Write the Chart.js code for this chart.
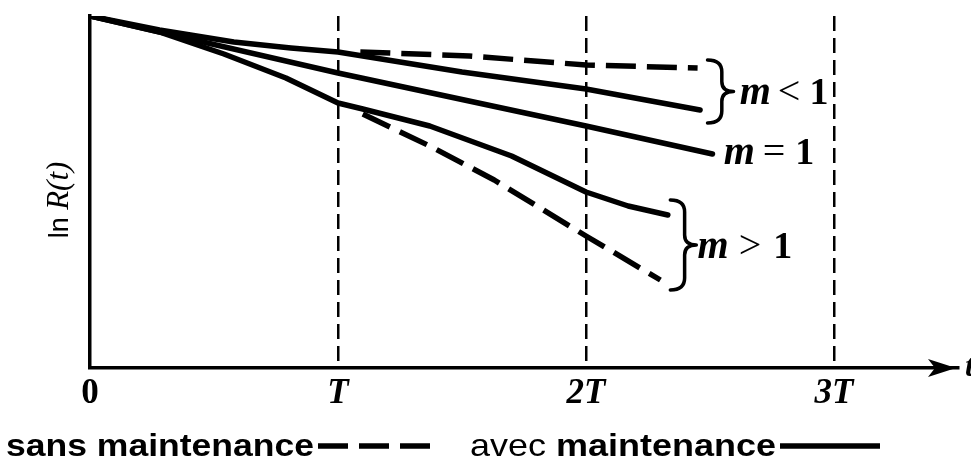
<!DOCTYPE html>
<html><head><meta charset="utf-8">
<style>html,body{margin:0;padding:0;background:#fff;overflow:hidden}canvas{display:block}</style>
<script src="https://cdn.jsdelivr.net/npm/chart.js@4.4.1/dist/chart.umd.min.js"></script>
</head><body>
<canvas id="c" width="971" height="461"></canvas>
<script>
// ---- data (x in units of T, y = ln R(t) in arbitrary units) ----
const tickValues = [0, 1, 2, 3];
const tickLabels = ['0', 'T', '2T', '3T'];

const sansLt1X = [1.09, 1.53, 2.0, 2.45];
const sansLt1Y = [-0.36, -0.40, -0.49, -0.52];

const avecLt1X = [0, 0.28, 0.58, 0.81, 1, 1.5, 2, 2.46];
const avecLt1Y = [0, -0.14, -0.26, -0.32, -0.36, -0.56, -0.73, -0.94];

const avecEq1X = [0, 1, 2, 2.51];
const avecEq1Y = [0, -0.57, -1.10, -1.38];

const avecGt1X = [0, 0.28, 0.54, 0.79, 1, 1.10, 1.37, 1.70, 2, 2.17, 2.33];
const avecGt1Y = [0, -0.16, -0.38, -0.62, -0.87, -0.93, -1.10, -1.40, -1.76, -1.90, -1.99];

const sansGt1X = [1.10, 1.37, 1.63, 2, 2.30];
const sansGt1Y = [-0.98, -1.30, -1.64, -2.20, -2.64];

const legendLabels = ['sans maintenance', 'avec maintenance'];

// ---- build ----
const pts = (xs, ys) => xs.map((x, i) => ({x: x, y: ys[i]}));
const DASH = [30, 11];
function ds(label, xs, ys, dashed) {
  return {
    label: label, data: pts(xs, ys), borderColor: '#000', borderWidth: 5.5,
    borderDash: dashed ? DASH : [], pointRadius: 0, tension: 0, fill: false,
    borderCapStyle: dashed ? 'butt' : 'round', borderJoinStyle: 'round'
  };
}

const deco = {
  id: 'deco',
  afterDraw(chart) {
    const {ctx, scales: {x, y}} = chart;
    ctx.save();
    ctx.fillStyle = '#000'; ctx.strokeStyle = '#000';
    // arrow head on time axis
    const ax = x.right - 2, ay = y.bottom;
    ctx.beginPath();
    ctx.moveTo(ax, ay); ctx.lineTo(ax - 28, ay - 9); ctx.lineTo(ax - 21, ay); ctx.lineTo(ax - 28, ay + 9);
    ctx.closePath(); ctx.fill();
    ctx.font = 'italic bold 32px "Liberation Serif"';
    ctx.textBaseline = 'alphabetic';
    ctx.fillText('t', ax + 9, ay + 8);

    // y axis title "ln R(t)"
    ctx.save();
    ctx.translate(68, 200); ctx.rotate(-Math.PI / 2);
    const f1 = '27px "Liberation Sans"', f2 = 'italic 31px "Liberation Serif"';
    ctx.font = f1; const w1 = ctx.measureText('ln ').width;
    ctx.font = f2; const w2 = ctx.measureText('R(t)').width;
    let sx = -(w1 + w2) / 2;
    ctx.font = f1; ctx.fillText('ln ', sx, 0);
    ctx.font = f2; ctx.fillText('R(t)', sx + w1, 0);
    ctx.restore();

    // braces
    function brace(x0, yt, yb, w) {
      const ym = (yt + yb) / 2, xm = x0 + w * 0.55, xc = x0 + w;
      ctx.beginPath();
      ctx.moveTo(x0, yt);
      ctx.quadraticCurveTo(xm, yt, xm, yt + 12);
      ctx.lineTo(xm, ym - 10);
      ctx.quadraticCurveTo(xm, ym, xc, ym);
      ctx.quadraticCurveTo(xm, ym, xm, ym + 10);
      ctx.lineTo(xm, yb - 12);
      ctx.quadraticCurveTo(xm, yb, x0, yb);
      ctx.lineWidth = 3.5; ctx.lineJoin = 'round'; ctx.lineCap = 'round';
      ctx.stroke();
    }
    brace(x.getPixelForValue(2.49), y.getPixelForValue(-0.44), y.getPixelForValue(-1.07), 26);
    brace(x.getPixelForValue(2.34), y.getPixelForValue(-1.84), y.getPixelForValue(-2.74), 26);

    // m labels
    function mLabel(xs, yb, op, gap) {
      ctx.font = 'italic bold 40px "Liberation Serif"';
      ctx.fillText('m', xs, yb);
      const wm = ctx.measureText('m').width;
      ctx.font = '40px "Liberation Serif"';
      ctx.fillText(op, xs + wm + gap, yb);
      const wo = ctx.measureText(op).width;
      ctx.font = 'bold 38px "Liberation Serif"';
      ctx.fillText('1', xs + wm + wo + gap * 2 + 2, yb);
    }
    mLabel(x.getPixelForValue(2.62), y.getPixelForValue(-0.88), '<', 7);
    mLabel(x.getPixelForValue(2.555), y.getPixelForValue(-1.48), '=', 8);
    mLabel(x.getPixelForValue(2.45), y.getPixelForValue(-2.42), '>', 10);

    // legend: text then line sample
    const sets = chart.data.datasets;
    const legendY = 446, base = 456;
    function legendItem(xStart, targetW, firstWord, rest, set, lineLen, firstWeight) {
      const fa = firstWeight + ' 32px "Liberation Sans"', fb = 'bold 32px "Liberation Sans"';
      ctx.font = fa;
      const a = ctx.measureText(firstWord + ' ').width;
      ctx.font = fb;
      const b = ctx.measureText(rest).width;
      const k = targetW / (a + b);
      ctx.save();
      ctx.translate(xStart, base); ctx.scale(k, 1);
      ctx.font = fa; ctx.fillText(firstWord + ' ', 0, 0);
      ctx.font = fb; ctx.fillText(rest, a, 0);
      ctx.restore();
      const lx = xStart + targetW + 4;
      ctx.save();
      ctx.lineWidth = set.borderWidth; ctx.strokeStyle = set.borderColor;
      ctx.setLineDash(set.borderDash); ctx.lineCap = 'butt';
      ctx.beginPath(); ctx.moveTo(lx, legendY); ctx.lineTo(lx + lineLen, legendY); ctx.stroke();
      ctx.restore();
    }
    const l0 = legendLabels[0].split(' '), l1 = legendLabels[1].split(' ');
    legendItem(6, 308, l0[0], l0[1], sets[0], 112, 'bold');
    legendItem(470, 306, l1[0], l1[1], sets[1], 100, 'normal');
    ctx.restore();
  }
};

new Chart(document.getElementById('c'), {
  type: 'line',
  data: {
    datasets: [
      ds('sans maintenance (m<1)', sansLt1X, sansLt1Y, true),
      ds('avec maintenance (m<1)', avecLt1X, avecLt1Y, false),
      ds('avec maintenance (m=1)', avecEq1X, avecEq1Y, false),
      ds('avec maintenance (m>1)', avecGt1X, avecGt1Y, false),
      ds('sans maintenance (m>1)', sansGt1X, sansGt1Y, true)
    ]
  },
  options: {
    responsive: false, animation: false, devicePixelRatio: 1,
    layout: {padding: {top: 16, right: 13, left: 0, bottom: 0}},
    plugins: {legend: {display: false}, tooltip: {enabled: false}},
    scales: {
      x: {
        type: 'linear', min: 0, max: 3.5,
        afterFit: s => { s.height = 93; },
        afterBuildTicks: s => { s.ticks = tickValues.map(v => ({value: v})); },
        ticks: {
          autoSkip: false, maxRotation: 0, padding: 5, color: '#000',
          callback: (v) => tickLabels[tickValues.indexOf(v)],
          font: (c) => ({family: '"Liberation Serif"', size: 35, weight: 'bold',
                          style: (c.tick && c.tick.value === 0) ? 'normal' : 'italic'})
        },
        grid: {
          drawTicks: false, lineWidth: 2.5,
          color: (c) => (c.tick && c.tick.value === 0) ? 'rgba(0,0,0,0)' : '#000'
        },
        border: {display: true, color: '#000', width: 3.5, dash: [15, 7]}
      },
      y: {
        type: 'linear', min: -3.52, max: 0,
        afterFit: s => { s.width = 90; },
        ticks: {display: false},
        grid: {display: false},
        border: {display: true, color: '#000', width: 3.5}
      }
    }
  },
  plugins: [deco]
});
</script>
</body></html>
